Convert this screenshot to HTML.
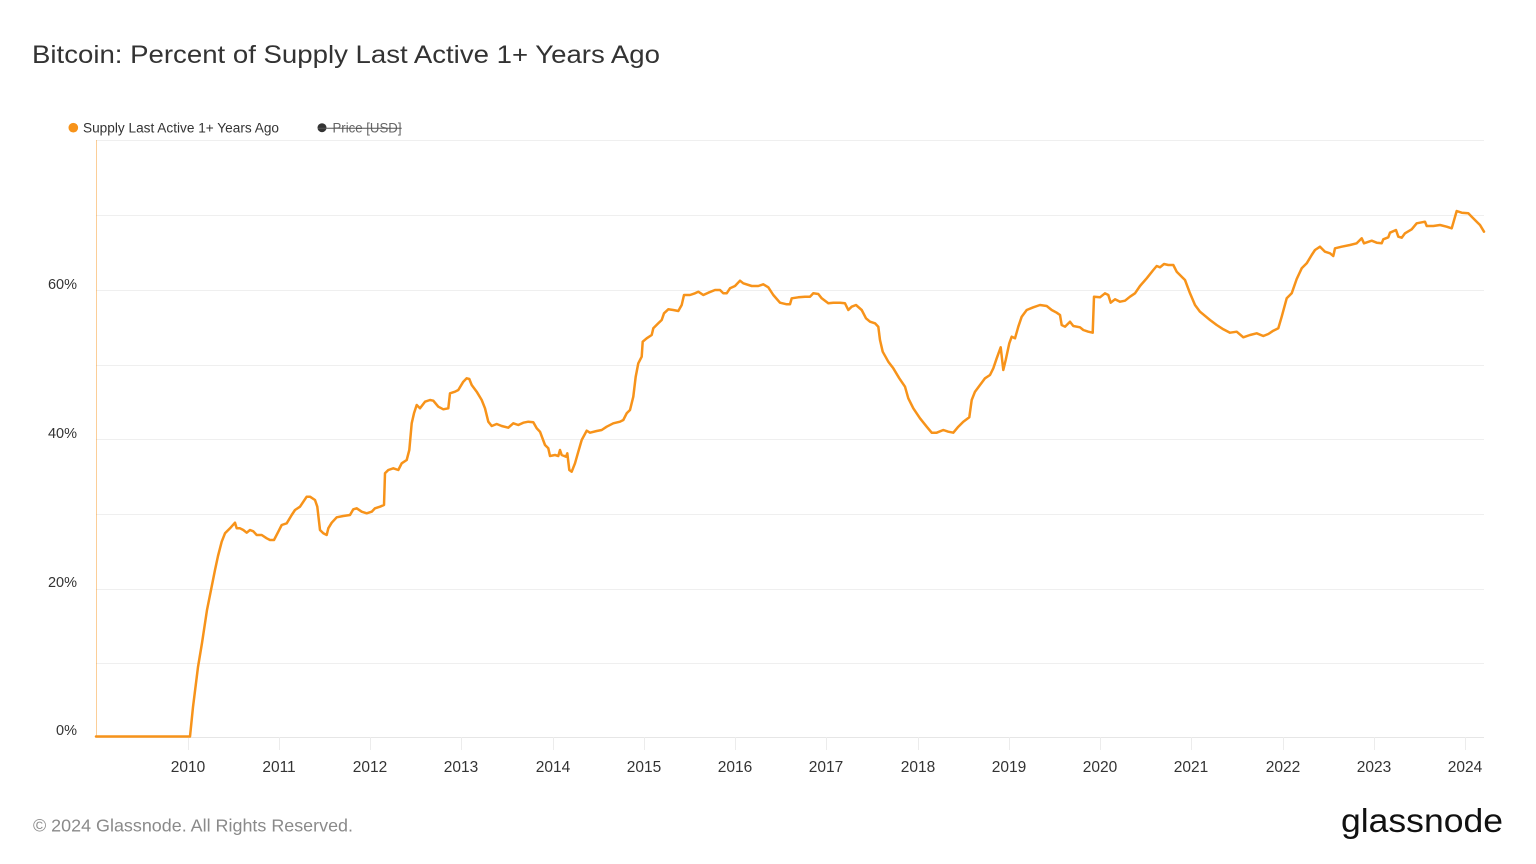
<!DOCTYPE html>
<html>
<head>
<meta charset="utf-8">
<style>
  html,body{margin:0;padding:0;background:#fff;}
  svg{display:block;}
  text{font-family:"Liberation Sans",Arial,sans-serif;}
</style>
</head>
<body>
<svg width="1536" height="864" viewBox="0 0 1536 864" xmlns="http://www.w3.org/2000/svg">
  <rect width="1536" height="864" fill="#ffffff"/>

  <!-- Title -->
  <text x="32" y="63" font-size="25" fill="#333333" textLength="628" lengthAdjust="spacingAndGlyphs">Bitcoin: Percent of Supply Last Active 1+ Years Ago</text>

  <!-- Legend -->
  <circle cx="73.3" cy="127.7" r="4.8" fill="#f7931a"/>
  <text x="83" y="132.5" font-size="13.5" fill="#333333" textLength="196" lengthAdjust="spacingAndGlyphs">Supply Last Active 1+ Years Ago</text>
  <circle cx="322" cy="127.7" r="4.5" fill="#333333"/>
  <text x="332.5" y="132.5" font-size="13.5" fill="#666666" textLength="69" lengthAdjust="spacingAndGlyphs">Price [USD]</text>
  <line x1="318" y1="128.3" x2="401.7" y2="128.3" stroke="#555555" stroke-width="1"/>

  <!-- Gridlines -->
  <g stroke="#efefef" stroke-width="1">
    <line x1="96" y1="140.5" x2="1484" y2="140.5"/>
    <line x1="96" y1="215.5" x2="1484" y2="215.5"/>
    <line x1="96" y1="290.5" x2="1484" y2="290.5"/>
    <line x1="96" y1="365.5" x2="1484" y2="365.5"/>
    <line x1="96" y1="439.5" x2="1484" y2="439.5"/>
    <line x1="96" y1="514.5" x2="1484" y2="514.5"/>
    <line x1="96" y1="589.5" x2="1484" y2="589.5"/>
    <line x1="96" y1="663.5" x2="1484" y2="663.5"/>
  </g>
  <line x1="96" y1="737.5" x2="1484" y2="737.5" stroke="#e6e6e6" stroke-width="1"/>

  <!-- X ticks -->
  <g stroke="#ececec" stroke-width="1">
    <line x1="188.5" y1="737" x2="188.5" y2="750"/>
    <line x1="279.5" y1="737" x2="279.5" y2="750"/>
    <line x1="370.5" y1="737" x2="370.5" y2="750"/>
    <line x1="461.5" y1="737" x2="461.5" y2="750"/>
    <line x1="553.5" y1="737" x2="553.5" y2="750"/>
    <line x1="644.5" y1="737" x2="644.5" y2="750"/>
    <line x1="735.5" y1="737" x2="735.5" y2="750"/>
    <line x1="826.5" y1="737" x2="826.5" y2="750"/>
    <line x1="918.5" y1="737" x2="918.5" y2="750"/>
    <line x1="1009.5" y1="737" x2="1009.5" y2="750"/>
    <line x1="1100.5" y1="737" x2="1100.5" y2="750"/>
    <line x1="1191.5" y1="737" x2="1191.5" y2="750"/>
    <line x1="1283.5" y1="737" x2="1283.5" y2="750"/>
    <line x1="1374.5" y1="737" x2="1374.5" y2="750"/>
    <line x1="1465.5" y1="737" x2="1465.5" y2="750"/>
  </g>

  <!-- Left axis line -->
  <line x1="96.5" y1="140" x2="96.5" y2="737" stroke="#f7931a" stroke-opacity="0.45" stroke-width="1"/>

  <!-- Y labels -->
  <g font-size="14.5" fill="#333333" text-anchor="end">
    <text x="77" y="289">60%</text>
    <text x="77" y="438">40%</text>
    <text x="77" y="587">20%</text>
    <text x="77" y="735">0%</text>
  </g>

  <!-- X labels -->
  <g font-size="15.5" fill="#333333" text-anchor="middle">
    <text x="188" y="772">2010</text>
    <text x="279" y="772">2011</text>
    <text x="370" y="772">2012</text>
    <text x="461" y="772">2013</text>
    <text x="553" y="772">2014</text>
    <text x="644" y="772">2015</text>
    <text x="735" y="772">2016</text>
    <text x="826" y="772">2017</text>
    <text x="918" y="772">2018</text>
    <text x="1009" y="772">2019</text>
    <text x="1100" y="772">2020</text>
    <text x="1191" y="772">2021</text>
    <text x="1283" y="772">2022</text>
    <text x="1374" y="772">2023</text>
    <text x="1465" y="772">2024</text>
  </g>

  <!-- Series -->
  <path fill="none" stroke="#f7931a" stroke-width="2.5" stroke-linejoin="round" stroke-linecap="round"
    d="M96,736.5 L190,736.5 L193,707 L198,667 L202,643 L207,610 L212,585 L215,570 L218,556 L221.7,541.7 L225,533.3 L230,528.3 L235,522.7 L236.7,528.3 L240,528.3 L243.3,530 L246.7,532.7 L250,530 L253.3,531.3 L256.7,535 L261.7,535 L266.7,538.3 L270,540 L274,540 L278.3,531.7 L281.7,525 L286.7,523.3 L291.7,515 L295,510 L300,506.7 L306.7,496.7 L310,496.7 L315,500 L317.3,506.7 L320,530 L323.3,533.3 L326.7,535 L328.3,528.3 L331.7,522.7 L336.7,517.3 L343.3,516 L350,515 L353.3,509.3 L356.7,508.3 L361.7,511.7 L366.7,513.3 L371.7,511.7 L375,508.3 L380,506.7 L384,505 L385,473.3 L388.3,470 L393.3,468.3 L398.3,470 L401.7,463.3 L406.7,460 L409.3,450 L411.7,423.3 L414,413.3 L416.7,405 L420,408.3 L425,401.7 L430,400 L433.3,400.7 L438.3,406.7 L443.3,409.3 L448.3,408.3 L450,393.3 L455,391.7 L458.3,390 L463.3,381.7 L466.7,378.3 L469.3,379 L471.7,385 L476.7,391.7 L481.7,400 L485,408.3 L488.3,421.7 L491.7,426 L496.7,424 L501.7,426 L508.3,427.7 L513.3,423.3 L518.3,425 L523.3,422.7 L528.3,421.7 L533.3,422.3 L536.7,428.3 L540,431.7 L545,445 L548.3,448.3 L550,456 L555,455 L558.3,456 L560,450 L561.7,455 L566,456.7 L567.3,453.3 L569.3,470 L571.7,471.7 L575,463.3 L578.3,451.7 L581.7,440 L586.7,430.7 L590,432.7 L596.7,431 L601.7,430 L606.7,426.7 L613.3,423.3 L620,421.7 L623.3,420 L626.7,413.3 L630,410 L633.3,396.7 L635.7,376.7 L638.3,363.3 L641.7,356.7 L642.7,341.7 L646.7,338.3 L651.7,335 L653.3,328.3 L658.3,323.3 L661.7,320 L664,313.3 L668.3,309.3 L673.3,310 L678.3,311 L681.7,305 L684,295 L690,295 L695,293.3 L698.3,291.7 L703.3,295 L708.3,292.7 L715,290 L720,290 L723.3,293.3 L726.7,293.3 L730,288.3 L735,286 L740,280.7 L743.3,283.3 L751.7,286 L758.3,286 L763.3,284.3 L768.3,287.3 L773.3,295 L780,302.7 L786.7,304.3 L790,304.3 L791.7,298.3 L798.3,297.3 L805,296.7 L810,296.7 L813.3,293.3 L818.3,294 L821.7,298.3 L828.3,303.3 L833.3,302.7 L840,302.7 L845,303.3 L848.3,310 L851.7,306.7 L856,305 L861.7,310 L866,318.3 L870,321.7 L875,323.3 L878.3,326.7 L880,340 L882.7,351.7 L888.3,361.7 L893.3,368.3 L899.3,378.3 L905,386.7 L908.3,398.3 L913.3,408.3 L920,418.3 L926.7,426.7 L931.7,432.7 L936.7,432.7 L943.3,430 L948.3,431.7 L953.3,432.7 L958.3,426.7 L963.3,421.7 L969.3,417.3 L971.7,400 L975,391.7 L980,385 L985,378.3 L990,375 L993.3,368.3 L996.7,358.3 L1000.7,347.3 L1003.3,370 L1005.7,360 L1009.3,343.3 L1011.7,336.7 L1015,338.3 L1018.3,326.7 L1021.7,316.7 L1026.7,310 L1033.3,307.3 L1040,305 L1046.7,306 L1051.7,310 L1056.7,312.7 L1060,315 L1061.7,325 L1065,326.7 L1070,321.7 L1073.3,326 L1080,327.3 L1083.3,330 L1088.3,331.7 L1092.7,332.7 L1094,296.7 L1100,297.3 L1105,293.3 L1108.3,295 L1110.7,302.7 L1115,299.3 L1120,301.7 L1125,300.7 L1130,296.7 L1135,293.3 L1140,286 L1146.7,278.3 L1153.3,270 L1156.7,266 L1160,267.3 L1164,264 L1168.3,265 L1173.3,265 L1176.7,271.7 L1181.7,276.7 L1185,280 L1190,293.3 L1195,305 L1200,311.7 L1210,320 L1216.7,325 L1223.3,329.3 L1230,332.7 L1236.7,331.7 L1243.3,337.3 L1250,335 L1256.7,333.3 L1263.3,336 L1268.3,334 L1273.3,330.7 L1278.3,328.3 L1281.7,316.7 L1286.7,298.3 L1291.7,293.3 L1296.7,279 L1301.7,268.3 L1306.7,263.3 L1311.7,255 L1315,250 L1320,246.7 L1325,251.7 L1330,253.3 L1333.3,256 L1335,248.3 L1341.7,246.7 L1350,245 L1356.7,243.3 L1361.7,238.3 L1364,243.3 L1371.7,240.7 L1376.7,242.7 L1381.7,243.3 L1383.3,239.3 L1388.3,237.3 L1390,232.7 L1396,230 L1398.3,236.7 L1401.7,237.7 L1405,233.3 L1411.7,229.3 L1416.7,223.3 L1425,221.7 L1426.7,226 L1433.3,226 L1440,225 L1446.7,226.7 L1451.7,228.3 L1456.7,211 L1461.7,212.7 L1468.3,213.3 L1471.7,216.7 L1476.7,221.7 L1480,225 L1484,231.7"/>

  <!-- Footer -->
  <text x="33" y="831.5" font-size="17.5" fill="#8a8a8a" textLength="320" lengthAdjust="spacingAndGlyphs">© 2024 Glassnode. All Rights Reserved.</text>
  <text x="1341" y="832" font-size="33" fill="#111111" textLength="162" lengthAdjust="spacingAndGlyphs">glassnode</text>
</svg>
</body>
</html>
